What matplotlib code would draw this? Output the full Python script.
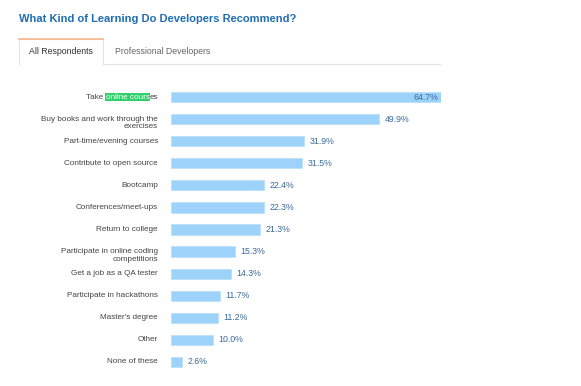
import matplotlib.pyplot as plt
from matplotlib.lines import Line2D

plt.rcParams['font.family'] = ['Liberation Sans', 'DejaVu Sans']

title = 'What Kind of Learning Do Developers Recommend?'
tabs = ['All Respondents', 'Professional Developers']
categories = ['Take online courses', 'Buy books and work through the\nexercises',
              'Part-time/evening courses', 'Contribute to open source', 'Bootcamp',
              'Conferences/meet-ups', 'Return to college',
              'Participate in online coding\ncompetitions', 'Get a job as a QA tester',
              'Participate in hackathons', "Master's degree", 'Other', 'None of these']
values = [64.7, 49.9, 31.9, 31.5, 22.4, 22.3, 21.3, 15.3, 14.3, 11.7, 11.2, 10.0, 2.6]

W, H = 581, 386
fig = plt.figure(figsize=(W / 100, H / 100), dpi=100)

def fx(px):
    return px / W

def fy(py):
    return 1 - py / H

# title and tabs
fig.text(fx(19), fy(19), title, color='#1f6db3', fontsize=8, fontweight='bold', va='center')
fig.add_artist(Line2D([fx(19), fx(19), fx(103), fx(103)], [fy(64), fy(38.5), fy(38.5), fy(64)],
                      color='#e4e4e4', lw=0.8))
fig.add_artist(Line2D([fx(19), fx(103)], [fy(38.5), fy(38.5)], color='#f9b58a', lw=1.2))
fig.add_artist(Line2D([fx(103), fx(440)], [fy(64), fy(64)], color='#e4e4e4', lw=0.8))
fig.text(fx(61), fy(51), tabs[0], color='#333333', fontsize=6.3, ha='center', va='center')
fig.text(fx(115), fy(51), tabs[1], color='#666666', fontsize=6.3, ha='left', va='center')

# bars
ax = fig.add_axes([fx(171), fy(373), fx(441) - fx(171), fy(86) - fy(373)])
y = list(range(len(categories)))
ax.barh(y, values, height=0.46, color='#9dd2fb', edgecolor='#b8defb', linewidth=0.5)
ax.set_xlim(0, max(values))
ax.set_ylim(len(categories) - 0.5, -0.5)
ax.axis('off')

for i, v in enumerate(values):
    if v == max(values):
        ax.annotate(f'{v:.1f}%', (v, i), xytext=(-2, 0), textcoords='offset points',
                    ha='right', va='center', fontsize=6.3, color='#3b6a9e')
    else:
        ax.annotate(f'{v:.1f}%', (v, i), xytext=(4, 0), textcoords='offset points',
                    ha='left', va='center', fontsize=6.3, color='#3b6a9e')

# category labels
fs = 5.9
x0 = -13 * 0.72
fig.canvas.draw()
renderer = fig.canvas.get_renderer()
for i, c in enumerate(categories):
    if i == 0:
        # "online cours" shown with a green selection highlight
        parts = ['Take ', 'online cours', 'es']
        t = ax.annotate(parts[2], (0, i), xytext=(x0, 0), textcoords='offset points',
                        ha='right', va='center', fontsize=fs, color='#444444')
        w2 = t.get_window_extent(renderer).width * 72 / 100
        t2 = ax.annotate(parts[1], (0, i), xytext=(x0 - w2, 0), textcoords='offset points',
                         ha='right', va='center', fontsize=fs, color='white',
                         bbox=dict(boxstyle='square,pad=0.1', fc='#2fd16b', ec='none'))
        w1 = t2.get_window_extent(renderer).width * 72 / 100
        ax.annotate(parts[0], (0, i), xytext=(x0 - w2 - w1, 0), textcoords='offset points',
                    ha='right', va='center', fontsize=fs, color='#444444')
    else:
        dy = -2.8 if '\n' in c else 0
        ax.annotate(c, (0, i), xytext=(x0, dy), textcoords='offset points',
                    ha='right', va='center', fontsize=fs, color='#444444', linespacing=1.1,
                    multialignment='right')

fig.savefig('out.png', dpi=100)
